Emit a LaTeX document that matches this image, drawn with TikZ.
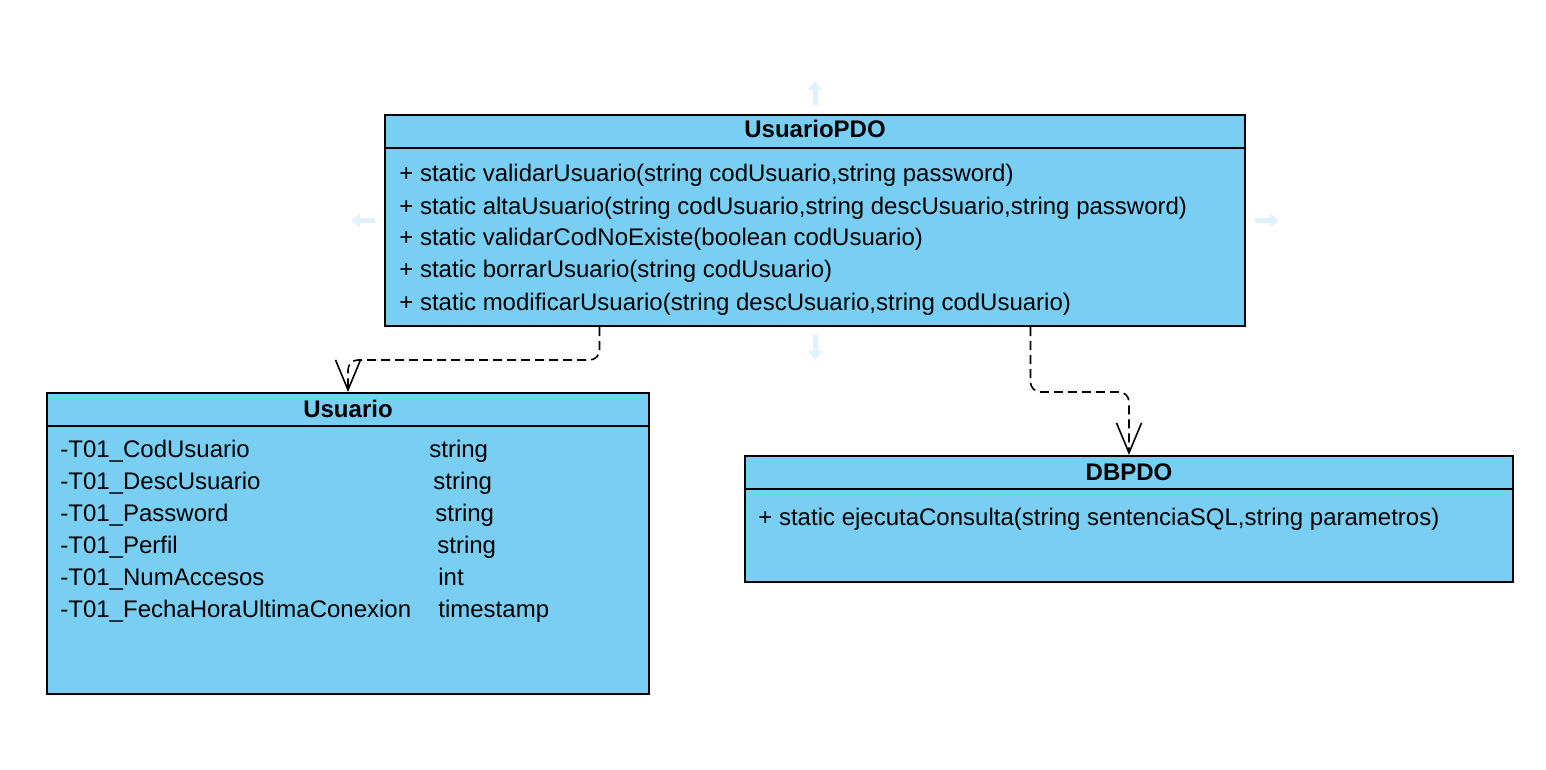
\documentclass[tikz,border=0pt]{standalone}
\usepackage{fontspec}
\setmainfont{Liberation Sans}
\usetikzlibrary{arrows.meta,calc}
\definecolor{classfill}{RGB}{121,207,243}
\definecolor{hoverblue}{RGB}{222,243,252}
\begin{document}
\begin{tikzpicture}[x=0.5pt,y=-0.5pt,
    font=\fontsize{12}{14}\selectfont,
    classbox/.style={draw, line width=1pt, fill=classfill, inner sep=0pt, anchor=north west},
    title/.style={anchor=base, font=\fontsize{12}{14}\selectfont\bfseries, inner sep=0pt},
    member/.style={anchor=base west, inner sep=0pt},
    dep/.style={line width=0.8pt, dash pattern=on 4.5pt off 2.5pt, rounded corners=5pt,
      -{Straight Barb[length=15pt,width=12.5pt]}},
    hover/.style={draw=hoverblue, line width=2.5pt, -{Triangle[length=4.5pt,width=6.5pt]}}]
  \useasboundingbox (0,0) rectangle (1546,770);

  % classes
  \node[classbox, minimum width=430pt, minimum height=105.5pt] (1) at (384,114) {};
  \node[classbox, minimum width=301pt, minimum height=150.5pt] (2) at (46,392) {};
  \node[classbox, minimum width=384pt, minimum height=62.75pt] (3) at (744,455) {};

  \draw[line width=1pt] ([yshift=-17pt]1.north west) -- ([yshift=-17pt]1.north east);
  \draw[line width=1pt] ([yshift=-17pt]2.north west) -- ([yshift=-17pt]2.north east);
  \draw[line width=1pt] ([yshift=-17pt]3.north west) -- ([yshift=-17pt]3.north east);

  \node[title] (1t) at ([yshift=-12pt]1.north) {UsuarioPDO};
  \node[title] (2t) at ([yshift=-12.7pt]2.north) {Usuario};
  \node[title] (3t) at ([yshift=-12.5pt]3.north) {DBPDO};

  \foreach \txt [count=\i] in {
      {+ static validarUsuario(string codUsuario,string password)},
      {+ static altaUsuario(string codUsuario,string descUsuario,string password)},
      {+ static validarCodNoExiste(boolean codUsuario)},
      {+ static borrarUsuario(string codUsuario)},
      {+ static modificarUsuario(string descUsuario,string codUsuario)}}
    \node[member] (1m\i) at (399,150+32*\i) {\txt};

  \foreach \name/\type/\tx [count=\i] in {
      -T01\_CodUsuario/string/429,
      -T01\_DescUsuario/string/433,
      -T01\_Password/string/435,
      -T01\_Perfil/string/437,
      -T01\_NumAccesos/int/438,
      -T01\_FechaHoraUltimaConexion/timestamp/438} {
    \node[member] (2a\i) at (60,425+32*\i) {\name};
    \node[member] (2b\i) at (\tx,425+32*\i) {\type};
  }

  \node[member] (3m1) at (758,525) {+ static ejecutaConsulta(string sentenciaSQL,string parametros)};

  % dependencies
  \draw[dep] ($(1.south west)!0.25!(1.south east)$) -- ++(0,33) -| (2.north);
  \draw[dep] ($(1.south west)!0.75!(1.south east)$) -- ++(0,65) -| (3.north);

  % hover arrows
  \draw[hover] ([yshift=4.5pt]1.north) -- ++(0,-24);
  \draw[hover] ([yshift=-4pt]1.south) -- ++(0,25);
  \draw[hover] ([xshift=-4.5pt]1.west) -- ++(-24,0);
  \draw[hover] ([xshift=4.5pt]1.east) -- ++(24,0);
\end{tikzpicture}
\end{document}
